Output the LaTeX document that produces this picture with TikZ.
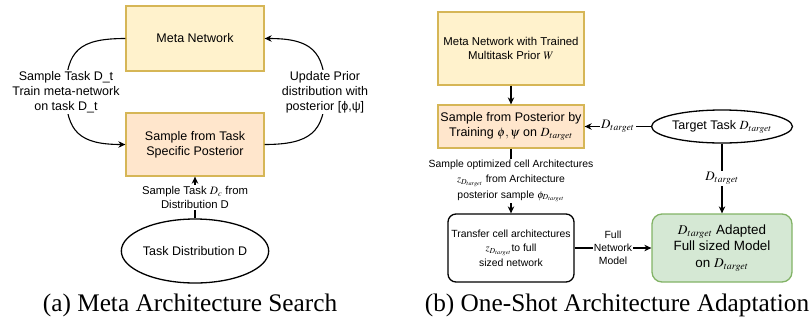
\documentclass[tikz,border=0pt]{standalone}
\usepackage{amssymb,amsmath}
\usepackage{mathptmx}
\usepackage{fontspec}
\setmainfont{Liberation Sans}
\newfontfamily\capfont{Liberation Serif}
\usetikzlibrary{arrows.meta, shapes.geometric, calc}

\definecolor{metafill}{HTML}{FFF2CC}
\definecolor{metaline}{HTML}{D6B656}
\definecolor{postfill}{HTML}{FFE6CC}
\definecolor{adaptfill}{HTML}{D5E8D4}
\definecolor{adaptline}{HTML}{82B366}

\begin{document}
\begin{tikzpicture}[x=1pt, y=-1pt, line width=1.1pt,
        >={Stealth[length=7pt, width=6.5pt]},
        box/.style={draw, line width=1.3pt, inner sep=0pt, align=center},
        lbl/.style={fill=white, inner sep=1pt, align=center},
        big/.style={font=\fontsize{12.5}{15}\selectfont},
        small/.style={font=\fontsize{10.4}{14.5}\selectfont}]
        \useasboundingbox (0,0) rectangle (811,322);

        % (a) meta architecture search
        \node[box, big, fill=metafill, draw=metaline, minimum width=138, minimum height=65] (meta) at (195, 38.5) {Meta Network};
        \node[box, big, fill=postfill, draw=metaline, minimum width=138, minimum height=63] (post) at (195, 144.5) {Sample from Task\\Specific Posterior};
        \node[box, big, ellipse, minimum width=138, minimum height=64] (dist) at (195, 251) {Task Distribution D};

        \draw[->] (meta.west) .. controls (80, 38.5) and (66, 50) .. (66, 92)
            node[lbl, big] (ltrain) {Sample Task D\_t\\Train meta-network\\on task D\_t}
            .. controls (66, 132) and (80, 144.5) .. (post.west);
        \draw[->] (post.east) .. controls (310, 144.5) and (325, 132) .. (325, 92)
            node[lbl, big] (lupdate) {Update Prior\\distribution with\\posterior [ϕ,ψ]}
            .. controls (325, 50) and (310, 38.5) .. (meta.east);
        \draw[->] (dist.north) -- node[lbl, font=\fontsize{11.3}{14}\selectfont] (lsample) {Sample Task $D_c$ from\\Distribution D} (post.south);

        \node[font=\capfont\fontsize{25.3}{30}\selectfont] (capa) at (190, 305) {(a) Meta Architecture Search};

        % (b) one-shot architecture adaptation
        \node[box, fill=metafill, draw=metaline, minimum width=146, minimum height=73, font=\fontsize{11.4}{14}\selectfont] (metaw) at (511, 48.5) {Meta Network with Trained\\Multitask Prior $W$};
        \node[box, big, fill=postfill, draw=metaline, minimum width=146, minimum height=43] (postt) at (511, 126.5) {Sample from Posterior by\\Training $\phi,\psi$ on $D_{target}$};
        \node[box, big, ellipse, minimum width=140, minimum height=33] (target) at (722, 126.5) {Target Task $D_{target}$};
        \node[box, small, rounded corners=8pt, minimum width=126, minimum height=68] (transfer) at (511, 248) {Transfer cell architectures\\$z_{D_{target}}$to full\\sized network};
        \node[box, fill=adaptfill, draw=adaptline, rounded corners=10pt, minimum width=140, minimum height=68, font=\fontsize{13.4}{16.5}\selectfont] (adapted) at (722, 248) {$D_{target}$ Adapted\\Full sized Model\\on $D_{target}$};

        \draw[->] (metaw) -- (postt);
        \draw[->] (target) -- node[lbl, font=\fontsize{13}{15}\selectfont] (ltgt) {$D_{target}$} (postt);
        \draw[->] (postt) -- node[lbl, font=\fontsize{10.4}{15.5}\selectfont] (lopt) {Sample optimized cell Architectures\\$z_{D_{target}}$ from Architecture\\posterior sample $\phi_{D_{target}}$} (transfer);
        \draw[->] (target) -- node[lbl, font=\fontsize{13}{15}\selectfont] (ltgt2) {$D_{target}$} (adapted);
        \draw[->] (transfer) -- node[lbl, font=\fontsize{10.4}{13}\selectfont] (lfull) {Full\\Network\\Model} (adapted);

        \node[font=\capfont\fontsize{25.3}{30}\selectfont] (capb) at (617, 305) {(b) One-Shot Architecture Adaptation};
    \end{tikzpicture}
\end{document}
